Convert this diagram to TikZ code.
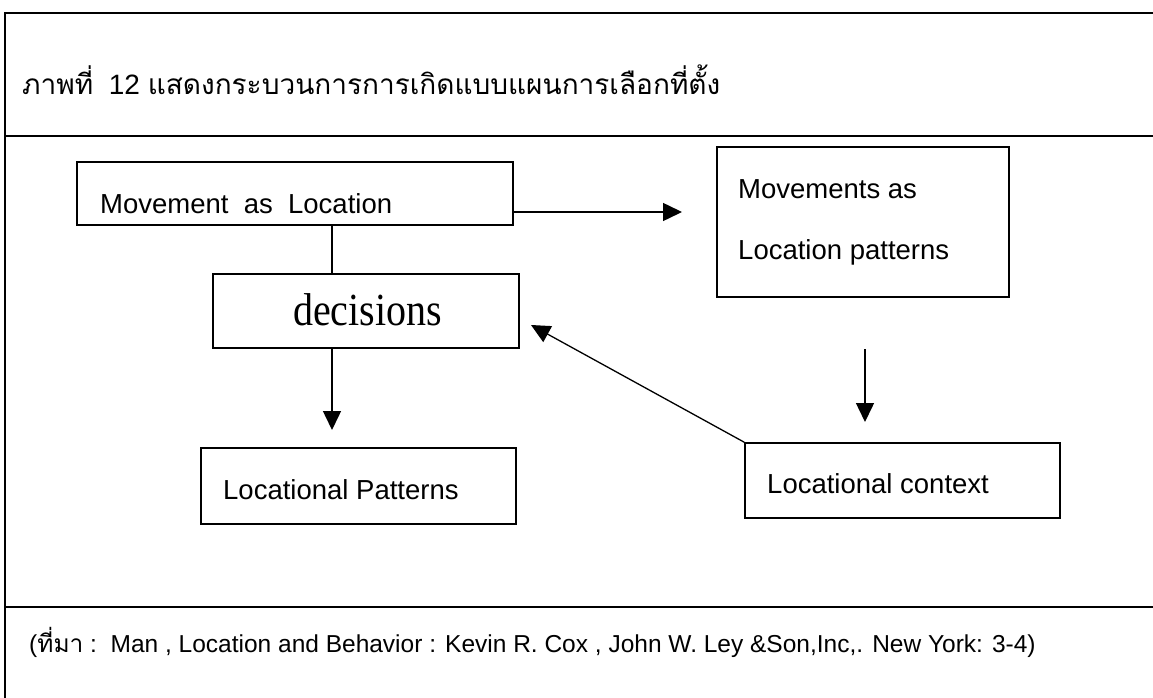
\documentclass[tikz,border=0pt]{standalone}
\usepackage{fontspec}
\setmainfont{Liberation Sans}
\newfontfamily\thaifont[Script=Thai]{Loma}
\newfontfamily\seriffont{Liberation Serif}
\usetikzlibrary{arrows.meta}
\begin{document}
\begin{tikzpicture}[x=1pt,y=-1pt,
  frameline/.style={line width=1.8pt},
  box/.style={draw, line width=1.6pt, inner sep=0pt},
  conn/.style={line width=1.5pt},
  arr/.style={conn, -{Triangle[length=19pt,width=18pt]}},
  lbl/.style={anchor=base west, inner sep=0pt, font=\fontsize{27.5}{33}\selectfont},
  foot/.style={anchor=base west, inner sep=0pt, font=\fontsize{24.5}{30}\selectfont}]
\useasboundingbox (0,0) rectangle (1153,698);
% frame
\draw[frameline] (1153,13) -- (5,13) -- (5,698);
\draw[frameline] (5,136) -- (1153,136);
\draw[frameline] (5,607) -- (1153,607);
% title
\node[anchor=base west, inner sep=0pt, font=\fontsize{28}{34}\selectfont] (title) at (22,95)
  {{\thaifont ภาพที่}\ \ 12 {\thaifont แสดงกระบวนการการเกิดแบบแผนการเลือกที่ตั้ง}};
% boxes
\node[box, minimum width=436pt, minimum height=63pt] (mov) at (295,193.5) {};
\node[box, minimum width=306pt, minimum height=74pt] (dec) at (366,311) {};
\node[box, minimum width=315pt, minimum height=76pt] (lp) at (358.5,486) {};
\node[box, minimum width=292pt, minimum height=150pt] (mv2) at (863,222) {};
\node[box, minimum width=315pt, minimum height=75pt] (ctx) at (902.5,480.5) {};
% labels
\node[lbl] (movt) at (100,213) {Movement\ \ as\ \ Location};
\node[anchor=base west, inner sep=0pt, font={\seriffont\fontsize{40}{48}\selectfont}] (dect) at (293,325) {\scalebox{1}[1.15]{decisions}};
\node[lbl] (lpt) at (223,499) {Locational Patterns};
\node[lbl] (mv2a) at (738,198) {Movements as};
\node[lbl] (mv2b) at (738,259) {Location patterns};
\node[lbl] (ctxt) at (767,493) {Locational context};
% connectors
\coordinate (cx) at (332,0);
\coordinate (t1) at (332,430);
\coordinate (t2) at (682,212);
\coordinate (d1) at (865,349);
\coordinate (d2) at (865,422);
\coordinate (t3) at (531,325);
\draw[conn] (mov.south -| cx) -- (dec.north -| cx);
\draw[arr] (dec.south -| cx) -- (t1);
\draw[arr] (t2 -| mov.east) -- (t2);
\draw[arr] (d1) -- (d2);
\draw[arr, line width=1.3pt] (ctx.north west) -- (t3);
% footer
\node[foot] (src) at (29,652) {({\thaifont ที่มา} :\ \ Man , Location and Behavior : Kevin R. Cox , John W. Ley \&Son,Inc,. New York: 3-4)};
\end{tikzpicture}
\end{document}
